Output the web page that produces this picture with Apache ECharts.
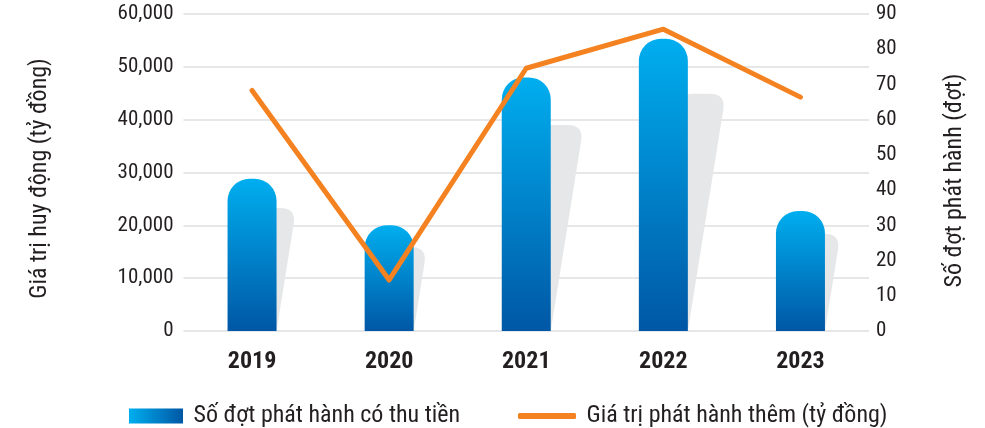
<!DOCTYPE html>
<html>
<head>
<meta charset="utf-8">
<script src="https://cdn.jsdelivr.net/npm/echarts@6/dist/echarts.min.js"></script>
<style>
  html, body { margin: 0; padding: 0; background: #fff; }
  #chart { width: 985px; height: 428px; }
</style>
</head>
<body>
<div id="chart"></div>
<script>
// du lieu doc tu hinh
var years = ['2019', '2020', '2021', '2022', '2023']
var barValues = [28800, 20000, 48000, 55300, 22700]      // truc trai
var shadowValues = [23300, 15900, 39000, 44900, 18400]   // bong xam sau cot
var lineValues = [68.3, 14.5, 74.6, 85.7, 66.4]          // truc phai
var leftTicks = { min: 0, max: 60000, interval: 10000 }
var rightTicks = { min: 0, max: 90, interval: 10 }

var FONT = '"Roboto Condensed", "Liberation Sans Narrow", "Arial Narrow", "DejaVu Sans Condensed", sans-serif'
var TEXT = '#231f20'
var BAR_W = 49

var myChart = echarts.init(document.getElementById('chart'))

// bong xam: cot nghieng sang phai, day trung voi cot xanh
function renderShadow(params, api) {
  var idx = api.value(0)
  var top = api.coord([idx, api.value(1)])
  var base = api.coord([idx, 0])
  var h = base[1] - top[1]
  var dx = h * 0.16
  var xl = top[0] - BAR_W / 2
  var xr = top[0] + BAR_W / 2
  var r = 16
  var y = top[1]
  var path =
    'M' + xl + ' ' + base[1] +
    ' L' + (xl + dx - dx * r / h) + ' ' + (y + r) +
    ' Q' + (xl + dx) + ' ' + y + ' ' + (xl + dx + r) + ' ' + y +
    ' L' + (xr + dx - r) + ' ' + y +
    ' Q' + (xr + dx) + ' ' + y + ' ' + (xr + dx - dx * r / h) + ' ' + (y + r) +
    ' L' + xr + ' ' + base[1] + ' Z'
  return {
    type: 'path',
    shape: { pathData: path },
    style: { fill: '#e6e7e8' },
  }
}

var legendText = { fontFamily: FONT, fontSize: 24, color: TEXT }

var option = {
  backgroundColor: '#fff',
  animation: false,
  grid: {
    left: 183.5,
    right: 116,
    top: 14,
    bottom: 97,
  },
  legend: [
    {
      left: 124,
      top: 399,
      itemWidth: 54,
      itemHeight: 15,
      textStyle: legendText,
      formatter: function (name) {
        return ' ' + name
      },
      data: [
        {
          name: 'Số đợt phát hành có thu tiền',
          icon: 'rect',
          itemStyle: {
            color: new echarts.graphic.LinearGradient(0, 0, 1, 0, [
              { offset: 0, color: '#00aeef' },
              { offset: 1, color: '#0057a5' },
            ]),
          },
        },
      ],
    },
    {
      left: 513,
      top: 399,
      itemWidth: 58,
      itemHeight: 6,
      textStyle: legendText,
      formatter: function (name) {
        return ' ' + name
      },
      data: [
        {
          name: 'Giá trị phát hành thêm (tỷ đồng)',
          icon: 'roundRect',
          itemStyle: { color: '#f58220' },
        },
      ],
    },
  ],
  xAxis: {
    type: 'category',
    data: years,
    axisLine: { show: false },
    axisTick: { show: false },
    axisLabel: {
      fontFamily: FONT,
      fontSize: 24,
      fontWeight: 'bold',
      color: TEXT,
      margin: 19,
    },
  },
  yAxis: [
    {
      type: 'value',
      min: leftTicks.min,
      max: leftTicks.max,
      interval: leftTicks.interval,
      name: 'Giá trị huy động (tỷ đồng)',
      nameLocation: 'middle',
      nameGap: 132,
      nameTextStyle: { fontFamily: FONT, fontSize: 24, color: TEXT, padding: [0, 12, 0, 0] },
      axisLine: { show: false },
      axisTick: { show: false },
      axisLabel: {
        fontFamily: FONT,
        fontSize: 21,
        color: TEXT,
        margin: 10,
        formatter: function (v) {
          return v.toLocaleString('en-US')
        },
      },
      splitLine: { lineStyle: { color: '#e6e7e8', width: 2 } },
    },
    {
      type: 'value',
      min: rightTicks.min,
      max: rightTicks.max,
      interval: rightTicks.interval,
      name: 'Số đợt phát hành (đợt)',
      nameLocation: 'middle',
      nameGap: 74,
      nameTextStyle: { fontFamily: FONT, fontSize: 24, color: TEXT, padding: [0, 16, 0, 0] },
      axisLine: { show: false },
      axisTick: { show: false },
      axisLabel: { fontFamily: FONT, fontSize: 21, color: TEXT, margin: 7 },
      splitLine: { show: false },
    },
  ],
  series: [
    {
      name: 'shadow',
      type: 'custom',
      z: 1,
      silent: true,
      renderItem: renderShadow,
      data: shadowValues.map(function (v, i) {
        return [i, v]
      }),
    },
    {
      name: 'Số đợt phát hành có thu tiền',
      type: 'bar',
      z: 2,
      barWidth: BAR_W,
      data: barValues,
      itemStyle: {
        borderRadius: [22, 22, 0, 0],
        color: new echarts.graphic.LinearGradient(0, 0, 0, 1, [
          { offset: 0, color: '#00aeef' },
          { offset: 1, color: '#0057a5' },
        ]),
      },
    },
    {
      name: 'Giá trị phát hành thêm (tỷ đồng)',
      type: 'line',
      yAxisIndex: 1,
      z: 3,
      data: lineValues,
      symbol: 'none',
      color: '#f58220',
      lineStyle: { color: '#f58220', width: 5, cap: 'round', join: 'round' },
    },
  ],
}
myChart.setOption(option)
</script>
</body>
</html>
